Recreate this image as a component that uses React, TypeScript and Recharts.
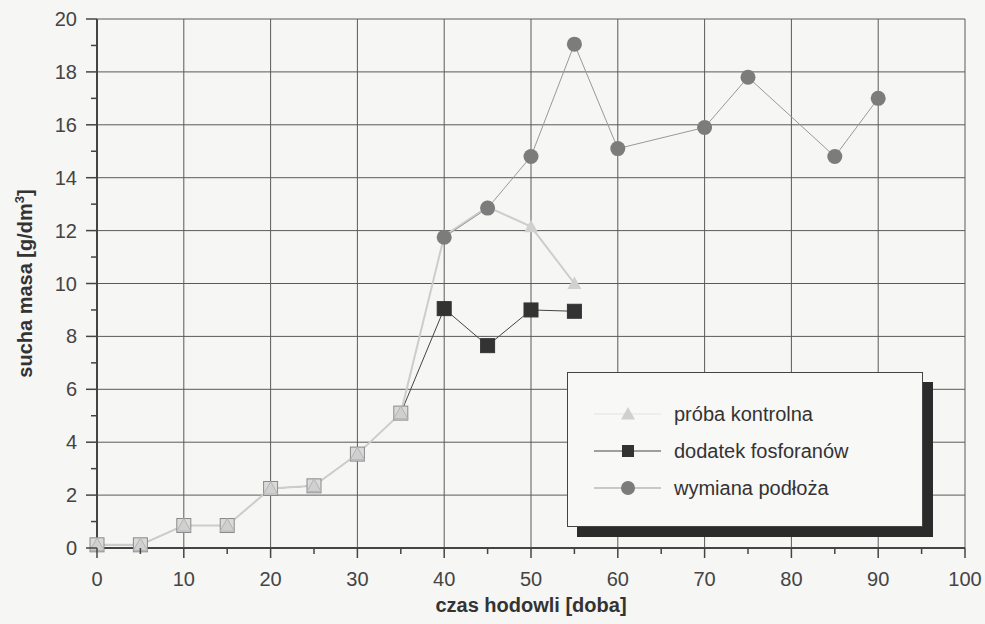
import { LineChart, Line, XAxis, YAxis, CartesianGrid, Label } from "recharts";

const days = [0, 5, 10, 15, 20, 25, 30, 35, 40, 45, 50, 55, 60, 70, 75, 85, 90];
const proba = [0.12, 0.12, 0.85, 0.85, 2.25, 2.35, 3.55, 5.1, 11.8, 12.9, 12.15, 10.0, null, null, null, null, null];
const dodatek = [0.12, 0.12, 0.85, 0.85, 2.25, 2.35, 3.55, 5.1, 9.05, 7.65, 9.0, 8.95, null, null, null, null, null];
const wymiana = [null, null, null, null, null, null, null, null, 11.75, 12.85, 14.8, 19.05, 15.1, 15.9, 17.8, 14.8, 17.0];

const xTicks = [0, 5, 10, 15, 20, 25, 30, 35, 40, 45, 50, 55, 60, 65, 70, 75, 80, 85, 90, 95, 100];
const yTicks = [0, 1, 2, 3, 4, 5, 6, 7, 8, 9, 10, 11, 12, 13, 14, 15, 16, 17, 18, 19, 20];
const xGrid = [10, 20, 30, 40, 50, 60, 70, 80, 90, 100];
const yGrid = [2, 4, 6, 8, 10, 12, 14, 16, 18, 20];

const legendItems = ["próba kontrolna", "dodatek fosforanów", "wymiana podłoża"];

const data = days.map((d, i) => ({
  day: d,
  proba: proba[i],
  dodatek: dodatek[i],
  wymiana: wymiana[i],
}));

const FONT = "'Liberation Sans', Arial, sans-serif";
const INK = "#444";

if (typeof document !== "undefined") {
  document.body.style.margin = "0";
  document.body.style.background = "#f6f6f4";
}

const XTick = (props: any) => {
  const { x, y, payload } = props;
  const major = payload.value % 10 === 0;
  return (
    <g>
      <line x1={x} x2={x} y1={y} y2={y + (major ? 10 : 6)} stroke={INK} strokeWidth={1.5} />
      {major && (
        <text x={x} y={y + 38} textAnchor="middle" fill={INK} fontSize={20} fontFamily={FONT}>
          {payload.value}
        </text>
      )}
    </g>
  );
};

const YTick = (props: any) => {
  const { x, y, payload } = props;
  const major = payload.value % 2 === 0;
  return (
    <g>
      <line x1={x - (major ? 11 : 6)} x2={x} y1={y} y2={y} stroke={INK} strokeWidth={1.5} />
      {major && (
        <text x={x - 20} y={y + 7} textAnchor="end" fill={INK} fontSize={20} fontFamily={FONT}>
          {payload.value}
        </text>
      )}
    </g>
  );
};

const Tri = ({ cx, cy, s = 7, stroke }: any) => (
  <polygon
    points={`${cx},${cy - s} ${cx + s},${cy + s * 0.8} ${cx - s},${cy + s * 0.8}`}
    fill="#d0d0d0"
    stroke={stroke || "none"}
    strokeWidth={1}
  />
);

const probaDot = (p: any) => {
  if (p.cy == null || p.value == null) return <g key={`p-${p.index}`} />;
  const early = p.payload.day < 40;
  return <Tri key={`p-${p.index}`} cx={p.cx} cy={p.cy} stroke={early ? "#b4b4b4" : undefined} />;
};

const dodatekDot = (p: any) => {
  if (p.cy == null || p.value == null) return <g key={`d-${p.index}`} />;
  const early = p.payload.day < 40;
  return (
    <rect
      key={`d-${p.index}`}
      x={p.cx - 7}
      y={p.cy - 7}
      width={14}
      height={14}
      fill={early ? "#dadada" : "#333"}
      stroke={early ? "#8a8a8a" : "#333"}
      strokeWidth={1}
    />
  );
};

const wymianaDot = (p: any) => {
  if (p.cy == null || p.value == null) return <g key={`w-${p.index}`} />;
  return <circle key={`w-${p.index}`} cx={p.cx} cy={p.cy} r={7.5} fill="#7c7c7c" />;
};

const YTitle = (props: any) => {
  const { viewBox } = props;
  const cy = viewBox.y + viewBox.height / 2;
  return (
    <text
      x={32}
      y={cy}
      transform={`rotate(-90, 32, ${cy})`}
      textAnchor="middle"
      fill="#333"
      fontSize={20}
      fontWeight="bold"
      fontFamily={FONT}
    >
      sucha masa [g/dm<tspan fontSize={13} dy={-8}>3</tspan>
      <tspan dy={8}>]</tspan>
    </text>
  );
};

const LegendBox = () => (
  <div style={{ position: "absolute", left: 567, top: 372, width: 356, height: 155 }}>
    <div
      style={{
        position: "absolute",
        left: 10,
        top: 10,
        width: 356,
        height: 155,
        background: "#2b2b2b",
      }}
    />
    <div
      style={{
        position: "absolute",
        left: 0,
        top: 0,
        width: 354,
        height: 153,
        background: "#f8f8f7",
        border: "1px solid #444",
      }}
    >
      <svg width={354} height={153} style={{ position: "absolute", left: 0, top: 0 }}>
        {legendItems.map((name, i) => {
          const y = 41 + i * 37;
          return (
            <g key={name}>
              <line
                x1={26}
                x2={93}
                y1={y}
                y2={y}
                stroke={i === 0 ? "#e2e2e2" : i === 1 ? "#444" : "#999"}
                strokeWidth={1}
              />
              {i === 0 && <Tri cx={60} cy={y} s={7} />}
              {i === 1 && <rect x={54} y={y - 6} width={12} height={12} fill="#333" />}
              {i === 2 && <circle cx={60} cy={y} r={7} fill="#7c7c7c" />}
              <text x={106} y={y + 7} fill="#333" fontSize={20} fontFamily={FONT}>
                {name}
              </text>
            </g>
          );
        })}
      </svg>
    </div>
  </div>
);

export default function App() {
  return (
    <div
      style={{
        position: "relative",
        width: 985,
        height: 624,
        background: "#f6f6f4",
        fontFamily: FONT,
      }}
    >
      <LineChart
        width={985}
        height={624}
        data={data}
        margin={{ top: 19, right: 20, bottom: 12, left: 37 }}
      >
        <CartesianGrid
          stroke="#5a5a5a"
          strokeWidth={1}
          horizontalValues={yGrid}
          verticalValues={xGrid}
        />
        <XAxis
          dataKey="day"
          type="number"
          domain={[0, 100]}
          ticks={xTicks}
          interval={0}
          tickSize={0}
          tickMargin={0}
          tickLine={false}
          tick={<XTick />}
          height={64}
          axisLine={{ stroke: INK, strokeWidth: 2 }}
        >
          <Label
            value="czas hodowli [doba]"
            position="insideBottom"
            offset={0}
            fill="#333"
            fontSize={20}
            fontWeight="bold"
            fontFamily={FONT}
          />
        </XAxis>
        <YAxis
          type="number"
          domain={[0, 20]}
          ticks={yTicks}
          interval={0}
          tickSize={0}
          tickMargin={0}
          tickLine={false}
          tick={<YTick />}
          width={60}
          axisLine={{ stroke: INK, strokeWidth: 2 }}
        >
          <Label content={<YTitle />} />
        </YAxis>
        <Line
          dataKey="dodatek"
          stroke="#444"
          strokeWidth={1}
          dot={dodatekDot}
          activeDot={false}
          isAnimationActive={false}
        />
        <Line
          dataKey="proba"
          stroke="#cdcdcd"
          strokeWidth={2}
          dot={probaDot}
          activeDot={false}
          isAnimationActive={false}
        />
        <Line
          dataKey="wymiana"
          stroke="#999"
          strokeWidth={1}
          dot={wymianaDot}
          activeDot={false}
          isAnimationActive={false}
        />
      </LineChart>
      <LegendBox />
    </div>
  );
}
